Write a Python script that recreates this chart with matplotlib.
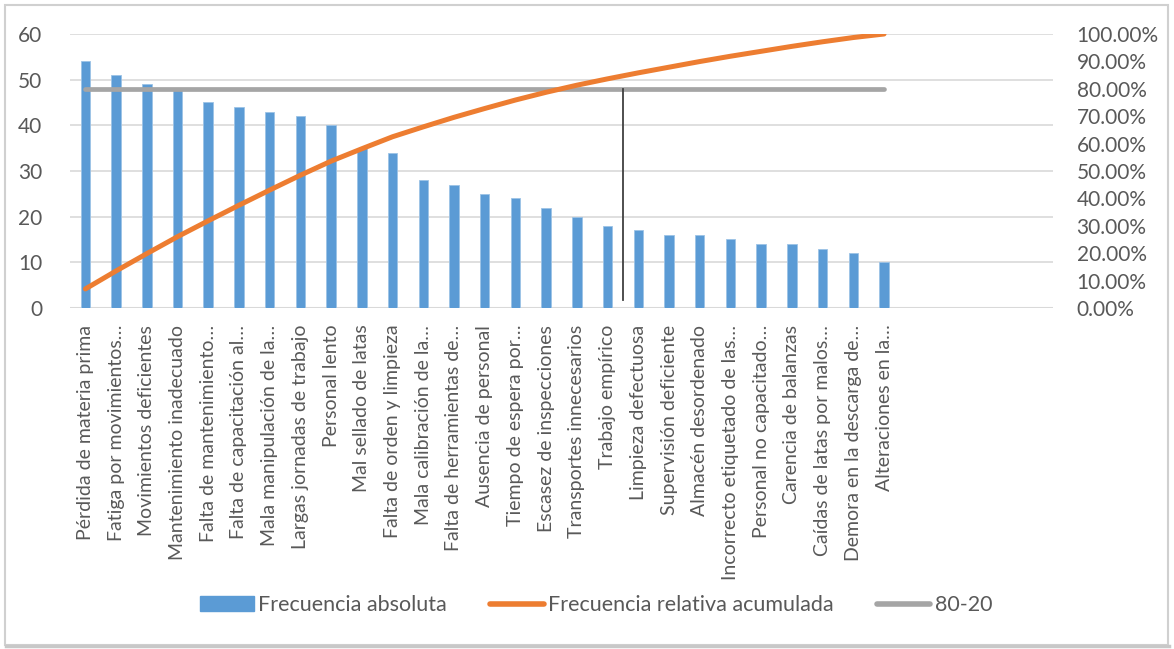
import matplotlib
matplotlib.use("Agg")
import matplotlib.pyplot as plt
from matplotlib.patches import Rectangle
from matplotlib.lines import Line2D
from matplotlib.ticker import FuncFormatter
import numpy as np

plt.rcParams['font.family'] = ['Lato', 'DejaVu Sans']

# Causes (already in Pareto order) and how often each occurred
categories = [
    "Pérdida de materia prima", "Fatiga por movimientos…", "Movimientos deficientes",
    "Mantenimiento inadecuado", "Falta de mantenimiento…", "Falta de capacitación al…",
    "Mala manipulación de la…", "Largas jornadas de trabajo", "Personal lento",
    "Mal sellado de latas", "Falta de orden y limpieza", "Mala calibración de la…",
    "Falta de herramientas de…", "Ausencia de personal", "Tiempo de espera por…",
    "Escasez de inspecciones", "Transportes innecesarios", "Trabajo empírico",
    "Limpieza defectuosa", "Supervisión deficiente", "Almacén desordenado",
    "Incorrecto etiquetado de las…", "Personal no capacitado…", "Carencia de balanzas",
    "Caídas de latas por malos…", "Demora en la descarga de…", "Alteraciones en la…",
]
frequency = [54, 51, 49, 48, 45, 44, 43, 42, 40, 35, 34, 28, 27, 25, 24, 22,
             20, 18, 17, 16, 16, 15, 14, 14, 13, 12, 10]
empty_slots = 5          # unused category slots kept at the right end of the axis
pareto_level = 0.80      # 80-20 reference
cutoff_position = 17.5   # divider between the vital few and the useful many
cutoff_bottom = 0.03

left_ticks = [0, 10, 20, 30, 40, 50, 60]
right_ticks = [0.0, 0.1, 0.2, 0.3, 0.4, 0.5, 0.6, 0.7, 0.8, 0.9, 1.0]

BLUE = "#5B9BD5"
ORANGE = "#ED7D31"
GRAY = "#A5A5A5"
GRID = "#D9D9D9"
TEXT = "#595959"

W, H = 1174, 649
fig = plt.figure(figsize=(W / 100, H / 100), dpi=100)

# chart frame
fig.patches.append(Rectangle((5 / W, 4 / H), 1163 / W, 640 / H, transform=fig.transFigure,
                             fill=False, edgecolor="#D0D0D0", linewidth=1.5, zorder=0))
fig.add_artist(Line2D([6 / W, 1169 / W], [3 / H, 3 / H], transform=fig.transFigure,
                      color="#C8C8C8", linewidth=2.5))

x0, x1, yb, yt = 70, 1053, 308, 34
ax = fig.add_axes([x0 / W, (H - yb) / H, (x1 - x0) / W, (yb - yt) / H])

n = len(categories)
x = np.arange(n)
cum = np.cumsum(frequency) / np.sum(frequency)

ax.bar(x, frequency, width=0.31, color=BLUE, edgecolor="#9CC3E6", linewidth=0.6, zorder=2)
ax.set_xlim(-0.5, n + empty_slots - 0.5)
ax.set_ylim(0, 60)
ax.set_yticks(left_ticks)
ax.yaxis.grid(True, color=GRID, linewidth=1.2)
ax.set_axisbelow(True)
for s in ax.spines.values():
    s.set_visible(False)
ax.axhline(0, color=GRID, linewidth=1.5, zorder=1)
ax.tick_params(axis="y", length=0, pad=20, labelsize=15, labelcolor=TEXT)
ax.set_xticks(x)
ax.set_xticklabels(categories, rotation=90, fontsize=14, color=TEXT)
ax.tick_params(axis="x", length=0, pad=12)

ax2 = ax.twinx()
ax2.set_ylim(0, 1)
ax2.set_yticks(right_ticks)
ax2.yaxis.set_major_formatter(FuncFormatter(lambda v, p: f"{v * 100:.2f}%"))
ax2.tick_params(axis="y", length=0, pad=17, labelsize=15, labelcolor=TEXT)
for s in ax2.spines.values():
    s.set_visible(False)

ax2.plot(x, cum, color=ORANGE, linewidth=3.6, solid_capstyle="round", zorder=4)
ax2.plot([x[0], x[-1]], [pareto_level, pareto_level], color=GRAY, linewidth=3.4,
         solid_capstyle="round", zorder=3)
ax2.plot([cutoff_position, cutoff_position], [cutoff_bottom, pareto_level],
         color="#404040", linewidth=1.3, zorder=5)

# legend
handles = [
    Rectangle((0, 0), 1, 1, facecolor=BLUE, edgecolor=BLUE),
    Line2D([], [], color=ORANGE, linewidth=4, solid_capstyle="round"),
    Line2D([], [], color=GRAY, linewidth=4, solid_capstyle="round"),
]
labels = ["Frecuencia absoluta", "Frecuencia relativa acumulada", "80-20"]
fig.legend(handles, labels, loc="center", bbox_to_anchor=(596 / W, (H - 605) / H),
           ncol=3, frameon=False, fontsize=15.5, labelcolor=TEXT, handlelength=2.5,
           handleheight=0.65, handletextpad=0.2, columnspacing=2.0)

fig.savefig("out.png", dpi=100)
